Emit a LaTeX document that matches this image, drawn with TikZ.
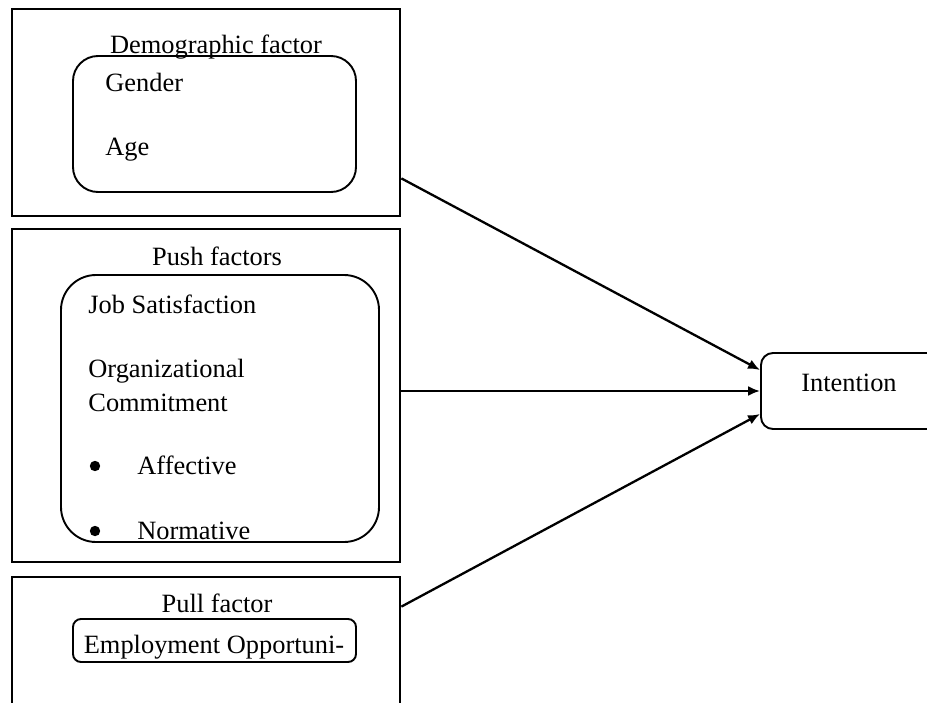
\documentclass[tikz,border=0pt]{standalone}
\usepackage{fontspec}
\setmainfont{Liberation Serif}
\usetikzlibrary{arrows.meta,calc}
\begin{document}
\begin{tikzpicture}[x=0.5pt,y=-0.5pt,
  outerbox/.style={draw, line width=1.4pt, rectangle, inner sep=0pt, minimum width=194pt},
  innerbox/.style={draw, line width=0.95pt, rectangle, rounded corners=#1, inner sep=0pt},
  lbl/.style={inner sep=0pt, anchor=base west, font=\fontsize{13.2}{16}\selectfont},
  ttl/.style={inner sep=0pt, anchor=base, font=\fontsize{13.2}{16}\selectfont},
  dot/.style={circle, fill=black, inner sep=0pt, minimum size=5.2pt},
  arr/.style={-{Latex[length=6pt,width=5pt]}, line width=1.15pt}]
\useasboundingbox (0,0) rectangle (927,702);
\clip (0,0) rectangle (927,702);
\fill[white] (0,0) rectangle (927,702);

% Demographic
\node[outerbox, minimum height=103.5pt] (b1) at (206,112.5) {};
\node[innerbox=12.5pt, minimum width=141.5pt, minimum height=68pt] (i1) at (214.5,124) {};
\node[ttl] (t1) at (216,53) {Demographic factor};
\node[lbl] (gender) at (105,91) {Gender};
\node[lbl] (age) at (105,155) {Age};

% Push
\node[outerbox, minimum height=166.5pt] (b2) at (206,395.5) {};
\node[innerbox=17.5pt, minimum width=159pt, minimum height=133.5pt] (i2) at (220,408.5) {};
\node[ttl] (t2) at (217,265) {Push factors};
\node[lbl] (job) at (88,313) {Job Satisfaction};
\node[lbl] (org) at (88,377) {Organizational};
\node[lbl] (com) at (88,411) {Commitment};
\node[dot] (bul1) at (95,466) {};
\node[lbl] (aff) at (137,474) {Affective};
\node[dot] (bul2) at (95,531) {};
\node[lbl] (nor) at (137,539) {Normative};

% Pull
\node[outerbox, minimum height=91.5pt] (b3) at (206,668.5) {};
\node[innerbox=4pt, minimum width=141.5pt, minimum height=21.5pt] (i3) at (214.5,640.5) {};
\node[ttl] (t3) at (217,612) {Pull factor};
\node[ttl] (emp) at (214,653) {Employment Opportuni-};

% Intention
\node[innerbox=6pt, minimum width=100pt, minimum height=38pt] (int) at (861,391) {};
\node[ttl] (intl) at (849,391) {Intention};

% Arrows
\coordinate (a1s) at ($(b1.south east)+(0,-39)$);
\coordinate (a1e) at ($(int.west)+(0,-21)$);
\coordinate (a3s) at ($(b3.north east)+(0,31)$);
\coordinate (a3e) at ($(int.west)+(0,23)$);
\draw[arr] (a1s) -- (a1e);
\draw[arr] (b2.east |- int.west) -- (int.west);
\draw[arr] (a3s) -- (a3e);
\end{tikzpicture}
\end{document}
